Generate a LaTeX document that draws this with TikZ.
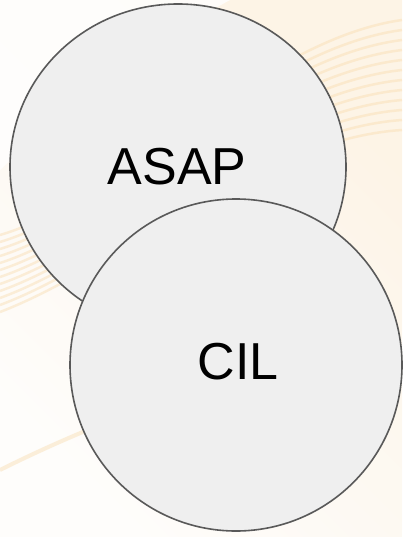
\documentclass[tikz,border=0pt]{standalone}
\usepackage{fontspec}
\setmainfont{Liberation Sans}
\usetikzlibrary{shapes.geometric}
\definecolor{cream}{HTML}{FDF4E6}
\definecolor{peach}{HTML}{F8D9A8}
\definecolor{circfill}{HTML}{EFEFEF}
\definecolor{circline}{HTML}{595959}
\tikzset{
  bubble/.style={draw=circline, line width=1.6pt, fill=circfill, inner sep=0pt},
  bubbletext/.style={font=\fontsize{52}{60}\selectfont, text=black},
  swirl/.style={draw=peach, line width=#1, opacity=0.4}
}
\begin{document}
\begin{tikzpicture}[x=1pt,y=-1pt]
\useasboundingbox (0,0) rectangle (402,537);
\fill[cream] (0,0) rectangle (402,537);
\shade[left color=white, right color=cream, shading angle=135, opacity=0.85] (0,0) rectangle (402,537);
\fill[white, opacity=0.8] (0,0) -- (230,0) .. controls (120,60) and (40,130) .. (0,170) -- cycle;
\foreach \i in {0,...,11}{
  \draw[swirl=2.5pt] (0,{235+7*\i}) .. controls (120,{200+6*\i}) and (260,{40+9*\i}) .. (402,{20+10*\i});
}
\draw[swirl=4pt] (0,470) .. controls (80,430) and (160,400) .. (230,380);
\node[bubble, ellipse, minimum width=336pt, minimum height=326pt] (asap) at (178,167) {};
\node[bubbletext] (asaptext) at (177,167) {ASAP};
\node[bubble, circle, minimum size=332pt] (cil) at (236,365) {};
\node[bubbletext] (ciltext) at (238,362) {CIL};
\end{tikzpicture}
\end{document}
